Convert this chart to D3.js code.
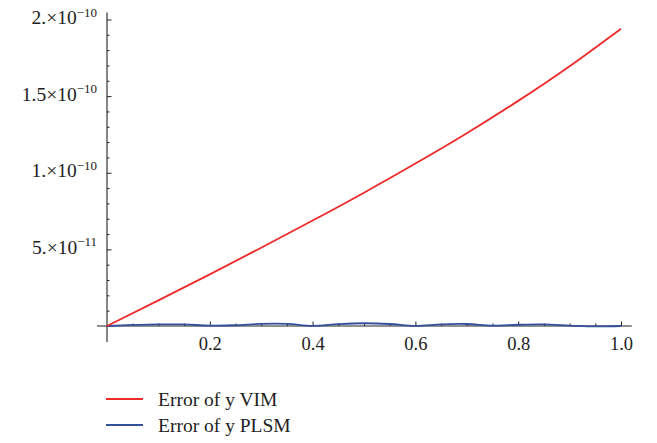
<!DOCTYPE html>
<html lang="en">

<head>
    <meta charset="utf-8">
    <title>Error of y</title>
    <script type="text/javascript" src="https://d3js.org/d3.v7.min.js"></script>
    <style>
        body { margin: 0; background: #fff; }
        svg { display: block; }
        text { font-family: "Liberation Serif", "DejaVu Serif", serif; fill: #222; }
    </style>
</head>

<body>
    <div id="container"></div>
    <script type="text/javascript">
        // data
        var xsVim = [0, 0.1, 0.2, 0.3, 0.4, 0.5, 0.6, 0.7, 0.8, 0.9, 1.0];
        // VIM error (units of 1e-10)
        var vim = [0, 0.167, 0.337, 0.511, 0.688, 0.870, 1.060, 1.258, 1.469, 1.695, 1.940];
        var xsPlsm = [0, 0.05, 0.1, 0.15, 0.2, 0.25, 0.3, 0.35, 0.4, 0.45, 0.5,
                      0.55, 0.6, 0.65, 0.7, 0.75, 0.8, 0.85, 0.9, 0.95, 1.0];
        // PLSM error (units of 1e-12)
        var plsm = [0, 0.7, 1.1, 1.0, 0.3, 0.5, 1.4, 1.4, 0.1, 1.2, 1.8,
                    1.3, 0.1, 1.1, 1.3, 0.2, 0.8, 1.0, 0.3, -0.3, 0];

        var xMajor = [0.2, 0.4, 0.6, 0.8, 1.0];
        var xMinor = [0.05, 0.1, 0.15, 0.25, 0.3, 0.35, 0.45, 0.5, 0.55, 0.65, 0.7, 0.75, 0.85, 0.9, 0.95];
        var yMajor = [5e-11, 1e-10, 1.5e-10, 2e-10];
        var yMantissa = ["5.", "1.", "1.5", "2."];
        var yExponent = ["\u221211", "\u221210", "\u221210", "\u221210"];
        var yMinor = [1e-11, 2e-11, 3e-11, 4e-11, 6e-11, 7e-11, 8e-11, 9e-11, 1.1e-10, 1.2e-10,
                      1.3e-10, 1.4e-10, 1.6e-10, 1.7e-10, 1.8e-10, 1.9e-10];
        var legendLabels = ["Error of y VIM", "Error of y PLSM"];
        var colors = ["#ee2a2a", "#34509c"];

        var w = 657, h = 443;
        const svg = d3.select("div#container")
            .append("svg")
            .attr("width", w)
            .attr("height", h);

        var x = d3.scaleLinear().domain([0, 1]).range([107, 621]);
        var y = d3.scaleLinear().domain([0, 2e-10]).range([326, 19.5]);
        var axisColor = "#222";

        // axis lines
        svg.append("line")
            .attr("x1", x(-0.0195)).attr("x2", x(1.021))
            .attr("y1", y(0)).attr("y2", y(0))
            .attr("stroke", axisColor).attr("stroke-width", 1.1);
        svg.append("line")
            .attr("x1", x(0)).attr("x2", x(0))
            .attr("y1", y(-1.05e-11)).attr("y2", y(2.045e-10))
            .attr("stroke", axisColor).attr("stroke-width", 1.1);

        // x ticks
        var gx = svg.append("g")
            .attr("transform", "translate(0," + y(0) + ")")
            .call(d3.axisBottom(x).tickValues(xMajor).tickSizeInner(-4.5).tickSizeOuter(0)
                .tickFormat(d3.format(".1f")));
        svg.append("g")
            .attr("transform", "translate(0," + y(0) + ")")
            .call(d3.axisBottom(x).tickValues(xMinor).tickSizeInner(-2.5).tickSizeOuter(0).tickFormat(""));

        // y ticks
        var gy = svg.append("g")
            .attr("transform", "translate(" + x(0) + ",0)")
            .call(d3.axisLeft(y).tickValues(yMajor).tickSizeInner(-4.5).tickSizeOuter(0).tickFormat(""));
        svg.append("g")
            .attr("transform", "translate(" + x(0) + ",0)")
            .call(d3.axisLeft(y).tickValues(yMinor).tickSizeInner(-2.5).tickSizeOuter(0).tickFormat(""));

        svg.selectAll(".domain").remove();
        svg.selectAll(".tick line").attr("stroke", axisColor);

        gx.selectAll(".tick text")
            .attr("y", 24).attr("dy", null)
            .attr("fill", "#222")
            .style("font-size", "18.5px");

        // y labels with superscripts
        gy.selectAll(".tick text").each(function (d, i) {
            var t = d3.select(this)
                .attr("x", -10).attr("dy", null).attr("y", 4)
                .attr("text-anchor", "end")
                .style("font-size", "19.5px");
            t.append("tspan").text(yMantissa[i] + "\u00d710");
            t.append("tspan").attr("dy", -7.5).style("font-size", "13px").text(yExponent[i]);
        });

        // curves
        var redLine = d3.line().curve(d3.curveNatural);
        var blueLine = d3.line().curve(d3.curveCatmullRom);
        svg.append("path")
            .attr("d", blueLine(xsPlsm.map((d, i) => [x(d), y(plsm[i] * 1e-12)])))
            .attr("fill", "none")
            .attr("stroke", colors[1])
            .attr("stroke-width", 1.8);
        svg.append("path")
            .attr("d", redLine(xsVim.map((d, i) => [x(d), y(vim[i] * 1e-10)])))
            .attr("fill", "none")
            .attr("stroke", colors[0])
            .attr("stroke-width", 1.8);

        // legend
        var leg = svg.selectAll("g.legend")
            .data(legendLabels)
            .enter()
            .append("g")
            .attr("class", "legend")
            .attr("transform", (d, i) => "translate(106," + (399 + i * 26) + ")");
        leg.append("line")
            .attr("x1", 0).attr("x2", 37)
            .attr("stroke", (d, i) => colors[i])
            .attr("stroke-width", 2);
        leg.append("text")
            .attr("x", 52).attr("y", 7)
            .style("font-size", "19.5px")
            .text((d) => d);
    </script>
</body>

</html>
